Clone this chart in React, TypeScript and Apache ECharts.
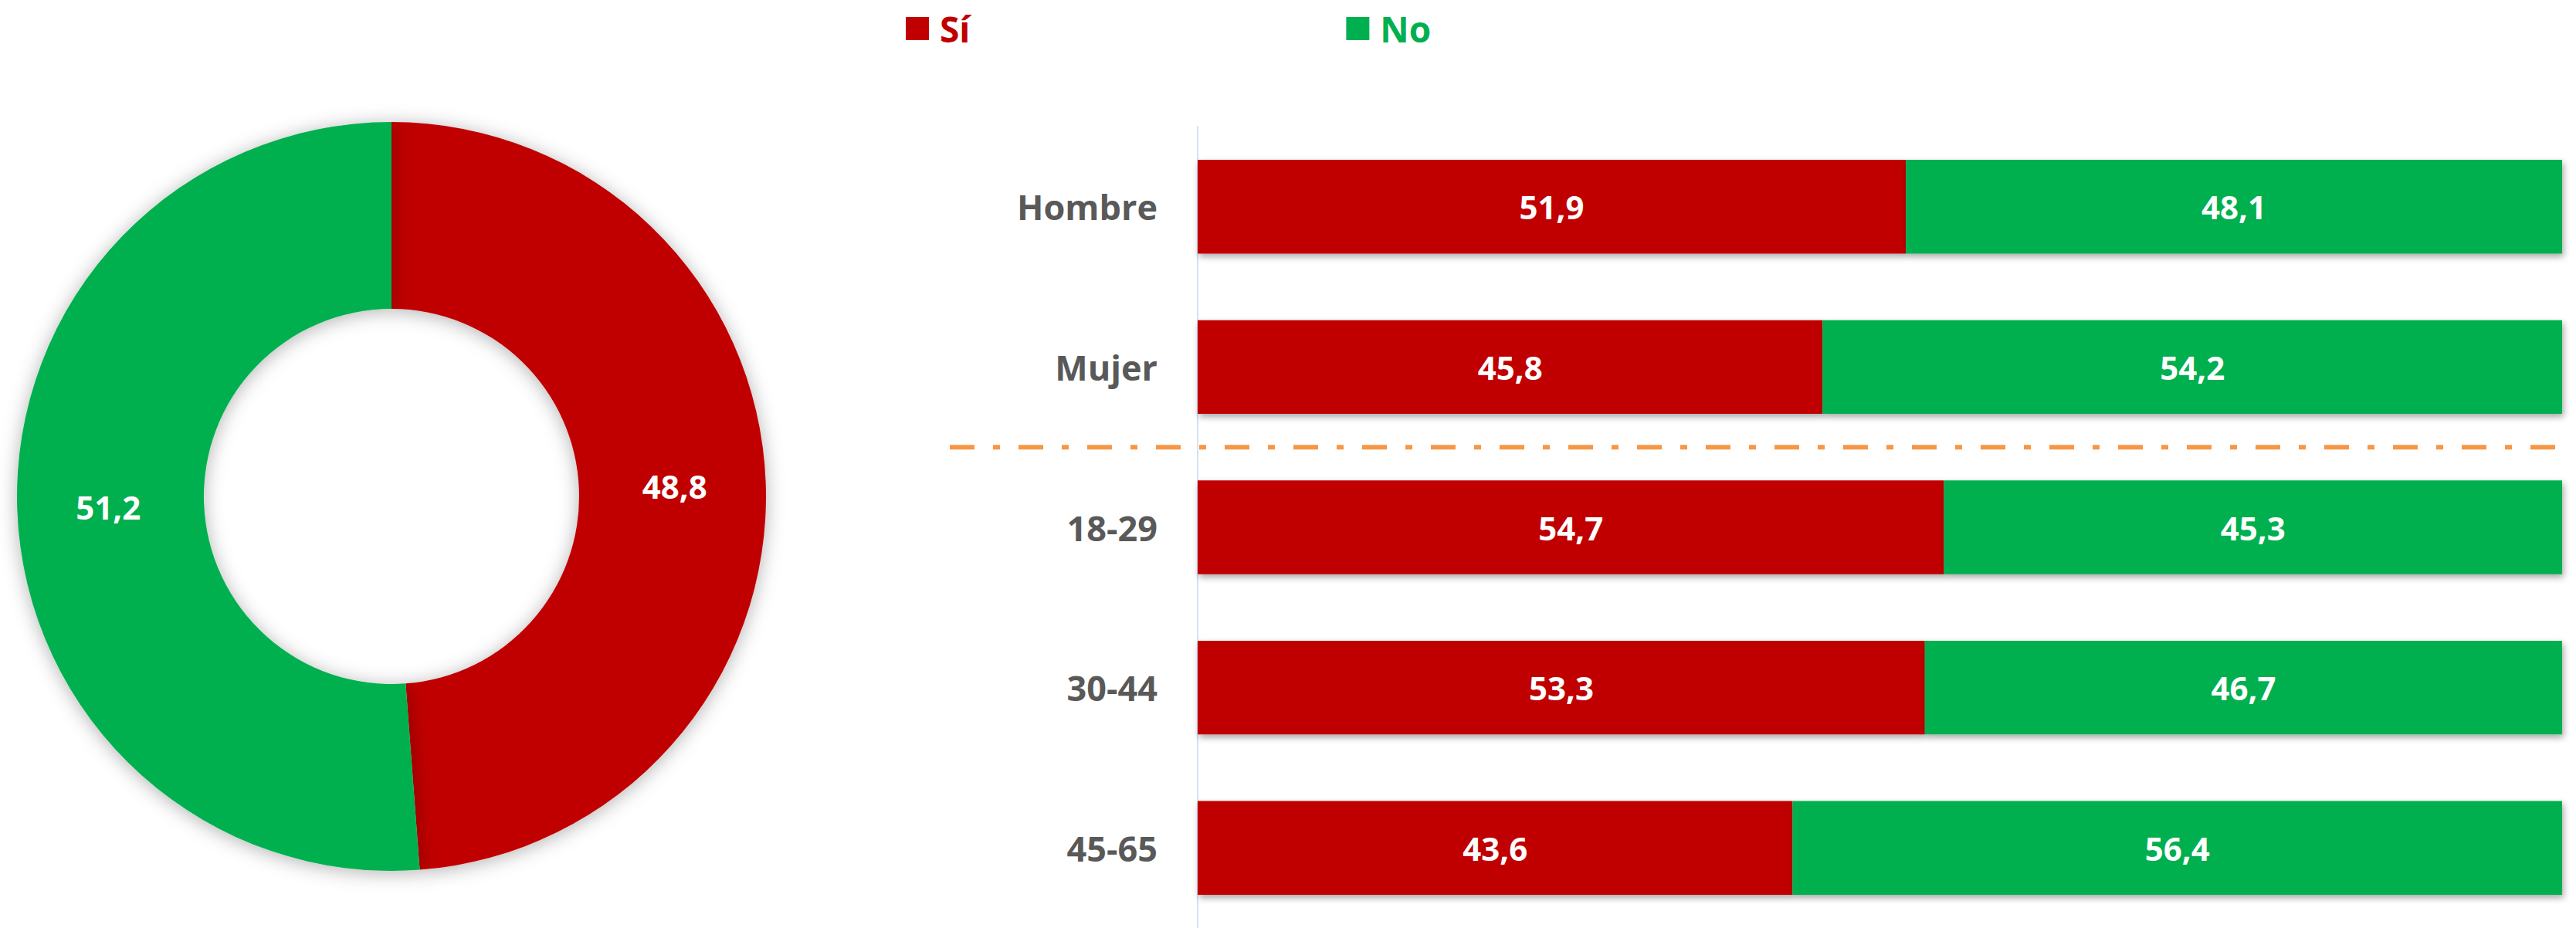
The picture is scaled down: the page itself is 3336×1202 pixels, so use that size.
import React, { useEffect, useRef } from "react";
import * as echarts from "echarts";

const seriesNames = ["Sí", "No"];
const totalValues = [48.8, 51.2];
const categories = ["Hombre", "Mujer", "18-29", "30-44", "45-65"];
const siValues = [51.9, 45.8, 54.7, 53.3, 43.6];
const noValues = [48.1, 54.2, 45.3, 46.7, 56.4];

const RED = "#C00000";
const GREEN = "#00B050";
const FONT = "'Open Sans', 'Noto Sans', sans-serif";

const fmt = (v: number) => String(v).replace(".", ",");

export default function App() {
  const ref = useRef<HTMLDivElement>(null);
  useEffect(() => {
    document.body.style.margin = "0";
    const chart = echarts.init(ref.current!, null, { renderer: "svg" });
    const valueLabel = {
      show: true,
      position: "inside",
      color: "#FFFFFF",
      fontFamily: FONT,
      fontWeight: "bold",
      fontSize: 42,
      formatter: (p: any) => fmt(p.value),
    };
    const barShadow = {
      shadowBlur: 8,
      shadowColor: "rgba(0,0,0,0.35)",
      shadowOffsetX: 2,
      shadowOffsetY: 4,
    };
    chart.setOption({
      animation: false,
      legend: {
        left: 1168,
        top: 9,
        icon: "rect",
        itemWidth: 30,
        itemHeight: 30,
        itemGap: 487,
        selectedMode: false,
        textStyle: {
          fontFamily: FONT,
          fontWeight: "bold",
          fontSize: 46,
          padding: [0, 0, 0, 9],
        },
        data: [
          { name: seriesNames[0], textStyle: { color: RED } },
          { name: seriesNames[1], textStyle: { color: GREEN } },
        ],
      },
      grid: { left: 1551, right: 18, top: 164, height: 1050, containLabel: false },
      xAxis: { type: "value", min: 0, max: 100, show: false },
      yAxis: {
        type: "category",
        inverse: true,
        data: categories,
        axisLine: { show: true, lineStyle: { color: "#D3E2F5", width: 2 } },
        axisTick: { show: false },
        axisLabel: {
          margin: 52,
          color: "#595959",
          fontFamily: FONT,
          fontWeight: "bold",
          fontSize: 45,
        },
      },
      series: [
        {
          type: "pie",
          center: [507, 643],
          radius: [243, 485],
          startAngle: 90,
          clockwise: true,
          label: {
            show: true,
            position: "inside",
            color: "#FFFFFF",
            fontFamily: FONT,
            fontWeight: "bold",
            fontSize: 42,
            formatter: (p: any) => fmt(p.value),
          },
          labelLine: { show: false },
          itemStyle: {
            shadowBlur: 24,
            shadowColor: "rgba(0,0,0,0.3)",
            shadowOffsetY: 3,
          },
          data: [
            { name: seriesNames[0], value: totalValues[0], itemStyle: { color: RED } },
            { name: seriesNames[1], value: totalValues[1], itemStyle: { color: GREEN } },
          ],
        },
        {
          type: "bar",
          name: seriesNames[0],
          stack: "t",
          barCategoryGap: "41.5%",
          itemStyle: { color: RED, ...barShadow },
          label: valueLabel,
          data: siValues,
        },
        {
          type: "bar",
          name: seriesNames[1],
          stack: "t",
          barCategoryGap: "41.5%",
          itemStyle: { color: GREEN, ...barShadow },
          label: valueLabel,
          data: noValues,
        },
      ],
    });
    const y1 = chart.convertToPixel({ yAxisIndex: 0 }, categories[1]) as number;
    const y2 = chart.convertToPixel({ yAxisIndex: 0 }, categories[2]) as number;
    const xEnd = chart.convertToPixel({ xAxisIndex: 0 }, 100) as number;
    const ySep = (y1 + y2) / 2;
    chart.setOption({
      graphic: [
        {
          type: "line",
          shape: { x1: 1230, y1: ySep, x2: xEnd, y2: ySep },
          style: { stroke: "#F79646", lineWidth: 6, lineDash: [32, 24, 9, 24] },
          z: 10,
        },
      ],
    });
    return () => chart.dispose();
  }, []);
  return <div ref={ref} style={{ width: 3336, height: 1202 }} />;
}
